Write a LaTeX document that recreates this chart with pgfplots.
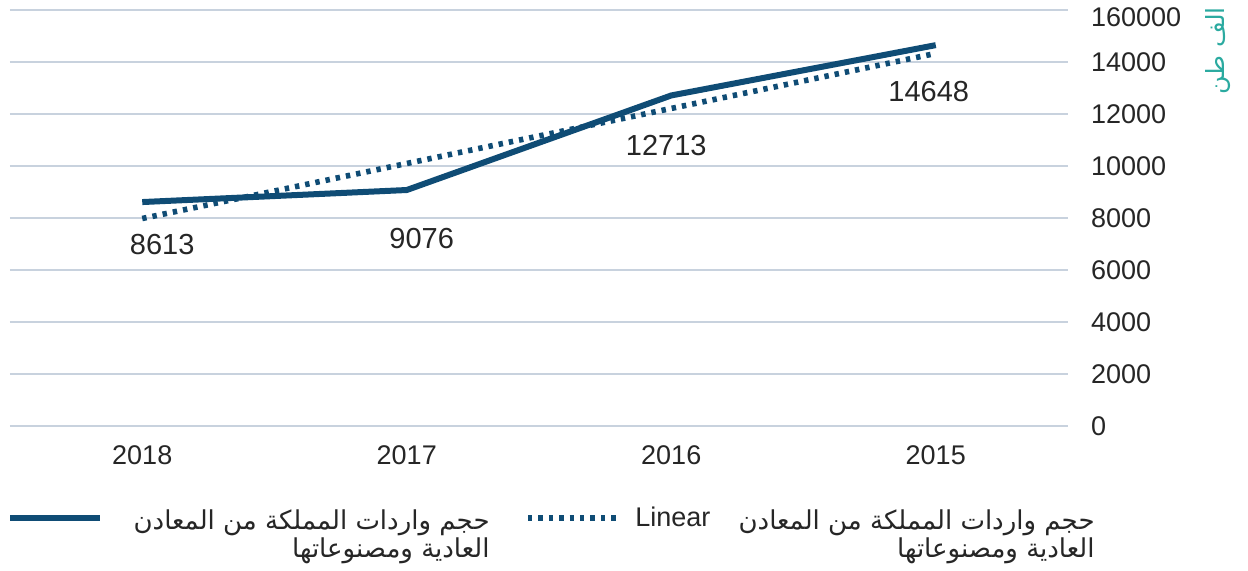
\documentclass[border=0pt]{standalone}
\usepackage{fontspec}
\setmainfont{Liberation Sans}
\newfontfamily\arabicfont[Script=Arabic]{DejaVu Sans}
\TeXXeTstate=1
\usepackage{pgfplots}
\pgfplotsset{compat=1.18}
\definecolor{navy}{HTML}{0F4C75}
\definecolor{gridc}{HTML}{C8D2DE}
\definecolor{txt}{HTML}{262626}
\definecolor{tealc}{HTML}{2BAAA0}

\begin{document}
\begin{tikzpicture}[x=1pt,y=1pt]
\path[use as bounding box] (0,0) rectangle (624,285.5);
\begin{axis}[
  at={(5pt,72.5pt)}, anchor=south west,
  scale only axis, width=529pt, height=208pt,
  xmin=-0.5, xmax=3.5, ymin=0, ymax=16000,
  axis line style={draw=none},
  xtick={0,1,2,3}, xticklabels={2018,2017,2016,2015},
  ytick={0,2000,4000,6000,8000,10000,12000,14000},
  yticklabels={0,2000,4000,6000,8000,10000,12000,14000},
  extra y ticks={16000}, extra y tick labels={160000},
  extra y tick style={yticklabel style={yshift=-3.5pt}},
  scaled y ticks=false,
  ymajorgrids, grid style={gridc, line width=0.8pt},
  major tick length=0pt,
  yticklabel pos=right,
  tick label style={font=\fontsize{13.5}{16}\selectfont, text=txt},
  xticklabel style={yshift=-6.5pt},
  yticklabel style={anchor=west, xshift=8pt},
  /pgf/number format/assume math mode=true,
  clip=false,
]
% series
\addplot[navy, line width=3pt] coordinates {(0,8613) (1,9076) (2,12713) (3,14648)};
% linear trend
\addplot[navy, line width=2.8pt, dash pattern=on 2.2pt off 3pt] coordinates {(0,7980) (3,14330)};
% value labels
\node[text=txt, font=\fontsize{14.5}{17}\selectfont, xshift=10pt, yshift=-21pt] at (axis cs:0,8613) {8613};
\node[text=txt, font=\fontsize{14.5}{17}\selectfont, xshift=7.5pt, yshift=-24pt] at (axis cs:1,9076) {9076};
\node[text=txt, font=\fontsize{14.5}{17}\selectfont, xshift=-2.5pt, yshift=-25pt] at (axis cs:2,12713) {12713};
\node[text=txt, font=\fontsize{14.5}{17}\selectfont, xshift=-3.5pt, yshift=-23pt] at (axis cs:3,14648) {14648};
\end{axis}
% y axis title
\node[rotate=90, text=tealc, font=\arabicfont\fontsize{12.5}{15}\selectfont] at (609,260) {\beginR الف طن\endR};
% legend
\draw[navy, line width=3.3pt] (5,26.5) -- (50,26.5);
\node[anchor=north east, align=right, text=txt, font=\arabicfont\fontsize{13}{14}\selectfont, inner sep=0pt] at (245,31)
  {\beginR حجم واردات المملكة من المعادن\endR\\ \beginR العادية ومصنوعاتها\endR};
\draw[navy, line width=2.8pt, dash pattern=on 2.2pt off 3pt] (264,26.5) -- (309,26.5);
\node[anchor=west, text=txt, font=\fontsize{13.5}{16}\selectfont, inner sep=0pt] at (317.5,27) {Linear};
\node[anchor=north east, align=right, text=txt, font=\arabicfont\fontsize{13}{14}\selectfont, inner sep=0pt] at (547.5,31)
  {\beginR حجم واردات المملكة من المعادن\endR\\ \beginR العادية ومصنوعاتها\endR};
\end{tikzpicture}
\end{document}
